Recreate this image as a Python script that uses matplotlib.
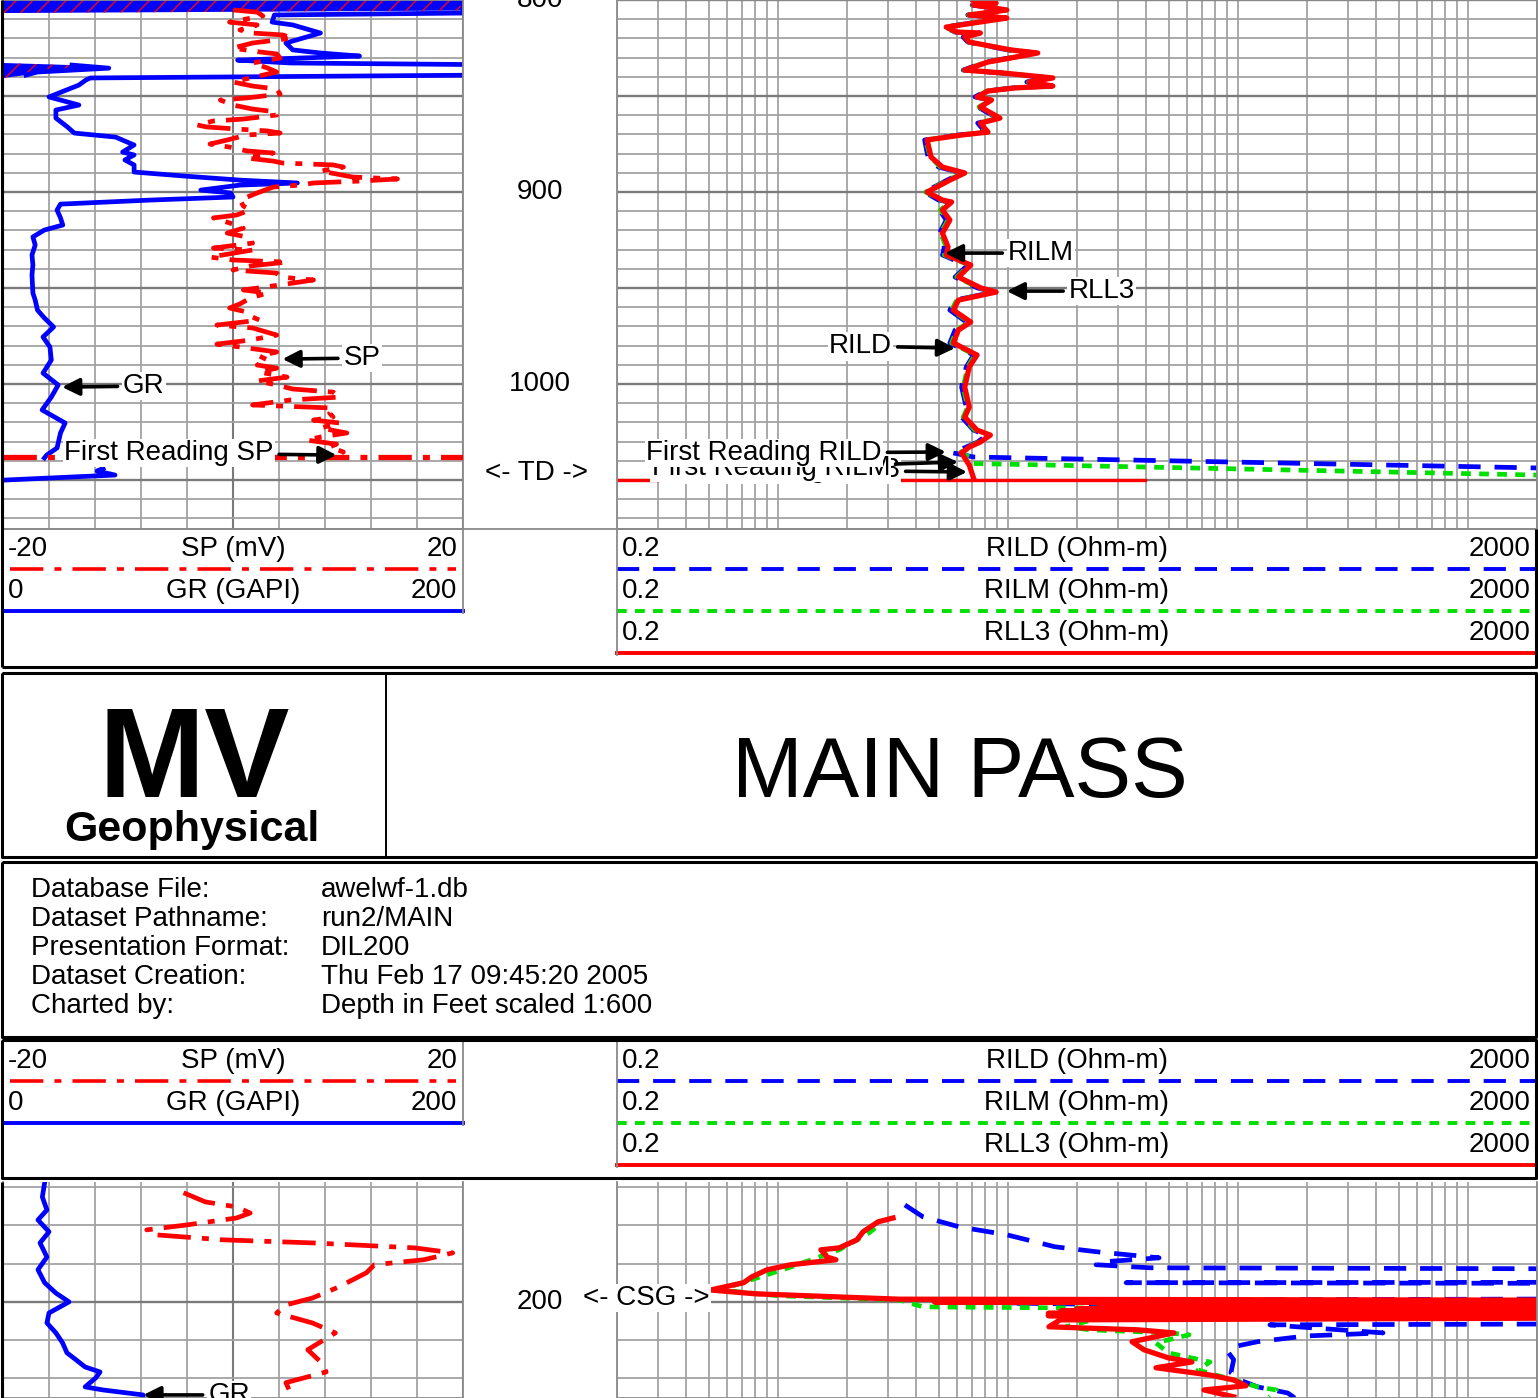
import numpy as np
import matplotlib.pyplot as plt
import matplotlib.transforms as mtransforms
from matplotlib.ticker import MultipleLocator, LogLocator, NullLocator

plt.rcParams['font.family'] = ['Liberation Sans', 'DejaVu Sans']
plt.rcParams['lines.scale_dashes'] = False

# ---------------- data read off the log ----------------
# upper section (depth in ft)
gr_top_depth = [800.0, 805.5, 806.8, 807.8, 811.5, 813.0, 817.2, 822.4, 826.0, 827.6,
                829.2, 831.3, 832.8, 833.9, 835.5, 837.5, 839.1, 840.6, 841.7, 844.3,
                850.5, 854.7, 857.3, 861.5, 866.1, 869.3, 871.4, 874.0, 875.5, 879.2,
                880.7, 883.3, 885.9, 889.6, 891.7, 893.8, 895.3, 896.4, 899.0, 900.5,
                902.6, 904.2, 906.3, 909.4, 913.5, 917.2, 919.8, 923.4, 927.6, 932.8,
                938.0, 943.2, 952.6, 956.3, 961.5, 965.6, 970.3, 975.5, 980.7, 987.5,
                994.3, 1000.5, 1006.8, 1013.5, 1020.3, 1025.5, 1033.3, 1037.0, 1038.5]
gr_top = [450, 450, 200, 118, 117, 126, 138, 123, 126, 138,
          155, 102, 125, 230, 246, 215, 210, 38, 36, 33,
          20, 33, 23, 23, 28, 31, 49, 54, 57, 52,
          57, 53, 57, 57, 79, 103, 128, 103, 86, 99,
          100, 64, 25, 23.5, 25, 26, 18, 13, 14, 12.6,
          13, 12.6, 13, 14, 15, 18, 22, 17.4, 20.4, 21,
          17.4, 24, 21, 17, 27, 25, 23.5, 19, 18]
gr_tail_depth = [1044.0, 1045.3, 1047.4, 1050.0]
gr_tail = [43.5, 40.9, 48.7, 0.9]

sp_top_depth = [805.2, 806.3, 808.3, 811.5, 813.0, 815.6, 817.2, 818.2, 819.8, 822.4,
                825.0, 826.6, 828.1, 830.2, 832.8, 835.4, 837.5, 840.6, 842.7, 844.8,
                846.4, 849.0, 851.0, 852.1, 854.7, 856.8, 858.3, 859.9, 862.0, 863.0,
                865.1, 866.1, 867.2, 868.2, 869.3, 870.3, 872.9, 875.0, 876.6, 878.6,
                879.7, 880.7, 882.3, 883.9, 884.9, 885.9, 887.0, 889.1, 890.6, 892.2,
                893.2, 894.3, 895.3, 896.4, 897.4, 900.5, 904.2, 907.3, 909.4, 912.0,
                913.5, 916.1, 918.8, 921.4, 923.4, 926.6, 929.2, 930.2, 933.9, 935.4,
                936.5, 938.5, 940.6, 942.2, 944.3, 945.8, 948.4, 951.0, 952.6, 955.2,
                958.3, 960.4, 962.5, 964.6, 966.7, 969.3, 970.8, 974.5, 977.1, 979.2,
                980.7, 983.3, 985.4, 987.5, 990.1, 991.7, 993.8, 996.4, 998.4, 1000.5,
                1002.6, 1004.2, 1006.8, 1008.3, 1010.9, 1012.5, 1015.1, 1017.2, 1018.8, 1020.3,
                1022.9, 1025.5, 1027.6, 1029.2, 1031.3, 1032.8, 1035.4, 1037.0]
sp_top = [0, 2.1, 2.6, -0.3, 2.1, 0.6, 1.7, 4.3, 5.2, 1.7,
          0, 1.7, 3.8, 4.1, 1.7, 3.0, 3.8, 1.5, 0, 1.7,
          3.8, 4.1, 1.2, -1.1, 0, 1.7, 3.8, 3.8, 0.9, -1.7,
          -3.1, -2.3, 0.3, 3.0, 4.1, 1.2, -0.5, -2.0, -0.3, 1.2,
          3.5, 2.3, 1.2, 3.5, 4.3, 8.7, 9.6, 7.6, 9.0, 10.4,
          14.3, 11.0, 7.0, 5.8, 3.5, 2.1, 0.6, 0.9, 1.5, 0.3,
          -1.7, -0.3, 0.9, -0.5, 1.2, 1.7, -1.7, 1.7, -2.0, 0,
          4.7, 1.5, 0, 3.8, 4.1, 7.0, 4.1, 0.9, 3.0, 1.5,
          0.6, -0.3, 1.2, 1.5, 2.3, -1.4, 1.7, 3.8, 1.5, -1.4,
          0.6, 3.8, 2.3, 3.0, 2.1, 3.8, 2.3, 4.7, 2.1, 3.8,
          5.2, 8.7, 9.3, 5.0, 1.7, 8.7, 8.4, 8.7, 7.0, 9.3,
          7.6, 9.9, 7.6, 6.4, 9.0, 8.4, 9.6, 8.9]
sp_first_depth = [1038.0, 1038.0]
sp_first = [-20, 20]

res_top_depth = [800.0, 801.6, 802.6, 805.2, 807.8, 808.9, 809.4, 814.1, 816.7, 817.2,
                 819.3, 821.9, 826.0, 827.6, 830.2, 832.3, 836.5, 838.0, 840.6, 842.7,
                 844.8, 845.8, 847.4, 850.5, 852.1, 855.7, 861.5, 864.1, 868.8, 870.3,
                 872.9, 881.8, 887.0, 890.1, 893.8, 900.0, 904.2, 905.2, 909.4, 914.6,
                 921.4, 928.6, 932.8, 935.4, 938.0, 944.3, 950.0, 952.1, 956.3, 961.5,
                 967.7, 971.9, 978.6, 984.9, 991.1, 1001.6, 1012.0, 1017.2, 1024.0, 1026.6,
                 1030.2, 1032.8, 1035.9]
rll3_top = [7.06, 8.9, 7.1, 9.9, 6.8, 8.9, 9.9, 5.4, 6.0, 7.6,
            6.5, 6.8, 10.3, 13.5, 10.3, 8.2, 6.5, 9.5, 15.7, 12.4,
            15.7, 10.7, 8.2, 7.35, 8.5, 7.6, 9.25, 7.6, 8.2, 6.3,
            4.46, 4.64, 5.2, 6.5, 5.6, 4.46, 5.2, 5.7, 5.2, 5.6,
            5.2, 5.5, 5.4, 6.1, 6.9, 6.1, 7.65, 8.9, 6.1, 5.8,
            6.9, 6.1, 5.8, 7.35, 6.8, 6.5, 6.8, 6.5, 7.35, 8.4,
            7.6, 6.8, 6.3]
rild_top = [7.0, 8.7, 7.0, 9.7, 6.7, 8.7, 9.6, 5.3, 5.9, 7.4,
            6.4, 6.7, 10.0, 13.2, 10.1, 8.0, 6.4, 9.3, 15.2, 12.1,
            15.3, 10.5, 8.0, 7.2, 8.3, 7.4, 9.0, 7.4, 8.0, 6.1,
            4.35, 4.5, 5.0, 6.3, 5.45, 4.35, 5.0, 5.5, 5.05, 5.4,
            5.05, 5.3, 5.2, 5.85, 6.7, 5.9, 7.4, 8.7, 5.9, 5.6,
            6.6, 5.9, 5.6, 7.1, 6.6, 6.3, 6.6, 6.3, 7.1, 8.1,
            7.4, 6.6, 5.8]
rilm_top = [7.0, 8.8, 7.05, 9.8, 6.75, 8.8, 9.8, 5.35, 5.95, 7.5,
            6.45, 6.75, 10.2, 13.4, 10.2, 8.1, 6.45, 9.4, 15.5, 12.3,
            15.5, 10.6, 8.1, 7.3, 8.4, 7.5, 9.1, 7.5, 8.1, 6.2,
            4.4, 4.6, 5.1, 6.4, 5.5, 4.4, 5.1, 5.6, 5.1, 5.5,
            5.1, 5.4, 5.3, 6.0, 6.8, 6.0, 7.5, 8.8, 6.0, 5.7,
            6.8, 6.0, 5.7, 7.2, 6.7, 6.4, 6.7, 6.4, 7.2, 8.3,
            7.5, 6.7, 6.2]
rll3_tail_depth = [1035.9, 1042.2, 1049.0]
rll3_tail = [6.3, 6.8, 7.1]
rild_tail_depth = [1035.9, 1038.0, 1043.7]
rild_tail = [5.8, 7.1, 2000]
rilm_tail_depth = [1035.9, 1038.0, 1041.4, 1047.4]
rilm_tail = [6.2, 6.8, 7.1, 2000]
rll3_first_depth = [1050.0, 1050.0]
rll3_first = [0.2, 39.5]

# lower section (casing shoe)
gr_bot_depth = [168.9, 172.6, 176.0, 178.6, 181.7, 184.6, 188.3, 191.6, 195.0, 197.7,
                200.0, 202.9, 205.5, 208.1, 210.7, 213.3, 215.1, 217.0, 218.3, 219.8,
                222.2, 223.0, 224.3, 225.1]
gr_bot = [18.1, 17.1, 19.1, 15.2, 20.0, 16.1, 19.1, 15.2, 18.1, 23.0,
          28.7, 20.0, 19.1, 23.0, 25.9, 27.8, 31.7, 35.7, 42.2, 40.4,
          35.7, 43.5, 60.9, 60.9]
sp_bot_depth = [171.5, 173.9, 175.2, 176.8, 178.1, 179.9, 181.2, 182.5, 183.8, 184.6,
                185.9, 187.2, 189.0, 190.3, 192.4, 196.1, 199.0, 200.8, 202.9, 205.5,
                208.1, 212.5, 215.9, 218.3, 221.1, 223.8]
sp_bot = [-4.3, -2.4, 0.3, 1.5, 0.3, -4.0, -7.5, -6.7, -0.9, 6.9,
          15.8, 19.1, 16.6, 12.3, 11.6, 9.2, 6.9, 4.6, 3.8, 6.9,
          8.9, 6.5, 7.7, 8.1, 4.6, 5.0]
rll3_bot_depth = [178.1, 179.1, 181.7, 183.8, 185.9, 186.4, 188.3, 189.0, 190.3, 191.6,
                  193.5, 195.0, 196.9, 197.9, 199.3, 199.7, 200.0, 200.3, 200.6, 200.9,
                  201.2, 201.5, 201.8, 202.1, 202.4, 202.7, 203.0, 203.3, 203.6, 203.9,
                  204.7, 206.5, 207.3, 208.1, 210.4, 212.5, 214.6, 215.7, 217.2, 219.1,
                  220.4, 221.9, 223.0, 224.8]
rll3_bot = [3.17, 2.73, 2.35, 2.21, 1.85, 1.54, 1.64, 1.79, 1.14, 0.90,
            0.77, 0.71, 0.51, 0.80, 3.37, 1e5, 4.8, 1e5, 30, 1e5,
            25, 1e5, 20, 1e5, 17, 1e5, 15, 1e5, 15, 1e5,
            16.9, 15.1, 36.8, 52.8, 34.7, 39.1, 49.8, 63.2, 44.1, 75.7,
            96, 108.6, 71.3, 96]
rild_bot_depth = [174.7, 177.8, 180.4, 182.5, 185.6, 186.9, 188.5, 189.6, 190.3, 191.1,
                  191.6, 194.8, 195.0, 195.3, 199.0, 199.5, 200.3, 201.0, 202.1, 205.5,
                  206.0, 207.3, 208.1, 208.9, 210.4, 211.7, 213.1, 215.1, 218.5, 220.4,
                  222.2, 223.8, 225.1]
rild_bot = [3.57, 4.28, 6.14, 9.93, 16.0, 24.2, 45.5, 25.2, 24.2, 41.5,
            1e5, 1e5, 32.7, 1e5, 1e5, 63.2, 9.93, 63.2, 1e5, 1e5,
            138, 278, 428, 198, 122, 96, 90.7, 96, 93.4, 102,
            122, 165, 177]
rilm_bot_depth = [180.7, 182.0, 186.4, 190.9, 194.3, 196.9, 198.4, 199.5, 201.3, 201.6,
                  202.1, 204.2, 206.5, 207.3, 208.1, 208.6, 210.7, 213.3, 215.7, 217.8,
                  220.4, 222.2, 223.0, 224.8]
rilm_bot = [2.65, 2.49, 1.85, 1.14, 0.76, 0.56, 1.01, 3.37, 4.28, 20.2,
            1e5, 25.2, 17.9, 22.8, 49.8, 61.4, 44.1, 49.8, 75.7, 67.1,
            96, 122, 147, 137]

top_range = (800.0, 1075.5)
bot_range = (168.7, 225.1)
depth_marks_top = [800, 900, 1000]
depth_marks_bot = [200]
td_depth = 1046.4
csg_depth = 199.0

info_labels = ["Database File:", "Dataset Pathname:", "Presentation Format:",
               "Dataset Creation:", "Charted by:"]
info_values = ["awelwf-1.db", "run2/MAIN", "DIL200",
               "Thu Feb 17 09:45:20 2005", "Depth in Feet scaled 1:600"]

# ---------------- styling ----------------
BLUE, RED, GREEN = '#0000ff', '#ff0000', '#00e000'
SP_DASH = (0, (24, 8, 5, 8))
RILD_DASH = (0, (16, 10))
RILM_DASH = (0, (7, 6))
GRID_DARK, GRID_LIGHT = '#7a7a7a', '#a2a2a2'
FS = 20
LW = 3.4

W, H = 1538, 1398
fig = plt.figure(figsize=(W / 100, H / 100), dpi=100)


def px_axes(x0, y0, x1, y1, **kw):
    return fig.add_axes([x0 / W, 1 - y1 / H, (x1 - x0) / W, (y1 - y0) / H], **kw)


def setup_track(ax, rng, log=False):
    ax.set_ylim(rng[1], rng[0])
    ax.yaxis.set_major_locator(MultipleLocator(50))
    ax.yaxis.set_minor_locator(MultipleLocator(10))
    if log:
        ax.set_xscale('log')
        ax.set_xlim(0.2, 2000)
        ax.xaxis.set_major_locator(LogLocator(base=10, subs=np.arange(1, 10), numticks=60))
        ax.xaxis.set_minor_locator(NullLocator())
        ax.grid(axis='x', which='major', color=GRID_LIGHT, lw=1.3)
    else:
        ax.set_xlim(0, 200)
        ax.xaxis.set_major_locator(MultipleLocator(100))
        ax.xaxis.set_minor_locator(MultipleLocator(20))
        ax.grid(axis='x', which='major', color=GRID_DARK, lw=1.5)
        ax.grid(axis='x', which='minor', color=GRID_LIGHT, lw=1.3)
    ax.grid(axis='y', which='major', color=GRID_DARK, lw=1.7)
    ax.grid(axis='y', which='minor', color=GRID_LIGHT, lw=1.3)
    ax.set_axisbelow(True)
    ax.tick_params(which='both', length=0, labelbottom=False, labelleft=False)
    for s in ax.spines.values():
        s.set_color('#8a8a8a')
        s.set_linewidth(1.3)


def label(ax, text, xy, dx, dy, ha, xycoords='data', z=6):
    ax.annotate(text, xy=xy, xycoords=xycoords, xytext=(dx, dy), textcoords='offset pixels',
                ha=ha, va='center', fontsize=FS, zorder=z,
                bbox=dict(boxstyle='square,pad=0.05', fc='white', ec='none'),
                arrowprops=dict(arrowstyle='-|>', color='black', lw=2.6,
                                mutation_scale=26, shrinkA=3, shrinkB=0))


# ---------------- upper tracks ----------------
ax_gr = px_axes(3, 0, 463, 529)
setup_track(ax_gr, top_range)
gr = np.array(gr_top, dtype=float)
dep = np.array(gr_top_depth)
over = gr > 200
backup = np.clip(gr - 200, 0, 200)
ax_gr.fill_betweenx(dep, 0, backup, where=over, facecolor=BLUE, edgecolor=RED,
                    hatch='//', lw=0, interpolate=True)
ax_gr.plot(np.where(over, backup, np.nan), dep, color=BLUE, lw=LW)
ax_gr.plot(gr, dep, color=BLUE, lw=LW)
ax_gr.plot(gr_tail, gr_tail_depth, color=BLUE, lw=LW)

ax_sp = ax_gr.twiny()
ax_sp.set_xlim(-20, 20)
ax_sp.axis('off')
ax_sp.plot(sp_top, sp_top_depth, color=RED, lw=LW, ls=SP_DASH)
ax_sp.plot(sp_first, sp_first_depth, color=RED, lw=3.8, ls=SP_DASH)

label(ax_sp, 'GR', (25.7, 1001.6), 61, 1, 'left', xycoords=ax_gr.transData)
label(ax_sp, 'SP', (4.3, 987.0), 61, 1, 'left')
label(ax_sp, 'First Reading SP', (9.0, 1037.0), -63, 2, 'right')

ax_res = px_axes(617, 0, 1537, 529)
setup_track(ax_res, top_range, log=True)
ax_res.plot(rild_top, res_top_depth, color=BLUE, lw=LW, ls=RILD_DASH)
ax_res.plot(rild_tail, rild_tail_depth, color=BLUE, lw=LW, ls=RILD_DASH)
ax_res.plot(rilm_top, res_top_depth, color=GREEN, lw=LW, ls=RILM_DASH)
ax_res.plot(rilm_tail, rilm_tail_depth, color=GREEN, lw=LW, ls=RILM_DASH)
ax_res.plot(rll3_top, res_top_depth, color=RED, lw=3.8)
ax_res.plot(rll3_tail, rll3_tail_depth, color=RED, lw=3.8)
ax_res.plot(rll3_first, rll3_first_depth, color=RED, lw=2.4)

label(ax_res, 'RILM', (5.33, 931.8), 63, 0, 'left')
label(ax_res, 'RLL3', (9.9, 951.6), 62, 0, 'left')
label(ax_res, 'RILD', (5.9, 981.3), -63, 2, 'right')
label(ax_res, 'First Reading RLL3', (6.65, 1045.8), -67, 2, 'right', z=5)
label(ax_res, 'First Reading RILM', (6.08, 1040.6), -68, -6, 'right', z=6)
label(ax_res, 'First Reading RILD', (5.38, 1035.4), -64, -1, 'right', z=7)

# ---------------- lower tracks ----------------
ax_grb = px_axes(3, 1182, 463, 1398)
setup_track(ax_grb, bot_range)
ax_grb.spines['top'].set_visible(False)
ax_grb.plot(gr_bot, gr_bot_depth, color=BLUE, lw=LW)
ax_spb = ax_grb.twiny()
ax_spb.set_xlim(-20, 20)
ax_spb.axis('off')
ax_spb.plot(sp_bot, sp_bot_depth, color=RED, lw=LW, ls=SP_DASH)
label(ax_spb, 'GR', (61, 224.3), 65, 0, 'left', xycoords=ax_grb.transData)

ax_resb = px_axes(617, 1182, 1537, 1398)
setup_track(ax_resb, bot_range, log=True)
ax_resb.spines['top'].set_visible(False)
ax_resb.plot(rild_bot, rild_bot_depth, color=BLUE, lw=LW, ls=RILD_DASH)
ax_resb.plot(rilm_bot, rilm_bot_depth, color=GREEN, lw=LW, ls=RILM_DASH)
ax_resb.plot(rll3_bot, rll3_bot_depth, color=RED, lw=3.8)

# ---------------- depth columns ----------------
for (y0, y1, rng, marks) in [(0, 529, top_range, depth_marks_top),
                             (1182, 1398, bot_range, depth_marks_bot)]:
    axd = px_axes(463, y0, 617, y1)
    axd.set_ylim(rng[1], rng[0])
    axd.axis('off')
    tr = mtransforms.blended_transform_factory(axd.transAxes, axd.transData)
    for m in marks:
        axd.text(0.5, m, str(m), transform=tr, ha='center', va='center', fontsize=FS)
    if y0 == 0:
        axd.text(0.48, td_depth, '<- TD ->', transform=tr, ha='center', va='center', fontsize=FS)
    else:
        axd.text(1.19, csg_depth, '<- CSG ->', transform=tr, ha='center', va='center',
                 fontsize=FS, zorder=10,
                 bbox=dict(boxstyle='square,pad=0.05', fc='white', ec='none'))

# ---------------- overlay: headers and boxes ----------------
ax0 = fig.add_axes([0, 0, 1, 1], zorder=10)
ax0.set_xlim(0, W)
ax0.set_ylim(H, 0)
ax0.axis('off')

K = dict(color='black', lw=2.2, solid_capstyle='butt')
G = dict(color='#8a8a8a', lw=1.3)


def scale_header(y0):
    for i, (lft, mid, rgt) in enumerate([('-20', 'SP (mV)', '20'), ('0', 'GR (GAPI)', '200')]):
        y = y0 + 20 + 42 * i
        ax0.text(8, y, lft, ha='left', va='center', fontsize=FS)
        ax0.text(233, y, mid, ha='center', va='center', fontsize=FS)
        ax0.text(457, y, rgt, ha='right', va='center', fontsize=FS)
    ax0.plot([10, 456], [y0 + 40] * 2, color=RED, lw=2.6, ls=SP_DASH)
    ax0.plot([3, 463], [y0 + 82] * 2, color=BLUE, lw=2.8)
    for i, name in enumerate(['RILD', 'RILM', 'RLL3']):
        y = y0 + 20 + 42 * i
        ax0.text(622, y, '0.2', ha='left', va='center', fontsize=FS)
        ax0.text(1077, y, name + ' (Ohm-m)', ha='center', va='center', fontsize=FS)
        ax0.text(1531, y, '2000', ha='right', va='center', fontsize=FS)
    ax0.plot([617, 1537], [y0 + 40] * 2, color=BLUE, lw=2.8, ls=RILD_DASH)
    ax0.plot([617, 1537], [y0 + 82] * 2, color=GREEN, lw=2.8, ls=RILM_DASH)
    ax0.plot([617, 1537], [y0 + 124] * 2, color=RED, lw=2.8)
    ax0.plot([463, 463], [y0, y0 + 84], **G)
    ax0.plot([617, 617], [y0, y0 + 126], **G)


scale_header(529)
ax0.plot([3, 1537], [529, 529], **G)
ax0.plot([2, 2], [0, 667], **K)
ax0.plot([2, 1536, 1536], [667, 667, 529], **K)

scale_header(1041)
ax0.plot([2, 1536, 1536, 2, 2], [1040, 1040, 1178, 1178, 1040], **K)
ax0.plot([2, 2], [1182, 1398], **K)

# logo / title box
ax0.plot([2, 1536, 1536, 2, 2], [673, 673, 857, 857, 673], **K)
ax0.plot([386, 386], [673, 857], color='black', lw=1.4)
ax0.text(194, 797, 'MV', ha='center', va='baseline', fontsize=92, fontweight='heavy')
ax0.text(192, 841, 'Geophysical', ha='center', va='baseline', fontsize=31, fontweight='heavy')
ax0.text(960, 797, 'MAIN PASS', ha='center', va='baseline', fontsize=61)

# info box
ax0.plot([2, 1536, 1536, 2, 2], [862, 862, 1037, 1037, 862], **K)
for i, (lab, val) in enumerate(zip(info_labels, info_values)):
    y = 890 + 29 * i
    ax0.text(31, y, lab, ha='left', va='center', fontsize=FS)
    ax0.text(321, y, val, ha='left', va='center', fontsize=FS)

fig.savefig('out.png', dpi=100)
